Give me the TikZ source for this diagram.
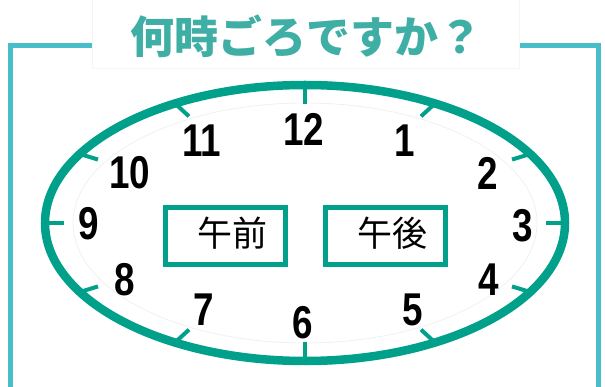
\documentclass[tikz,border=0pt]{standalone}
\usepackage{fontspec}
\setmainfont{Liberation Sans}
\newfontfamily\cjk{Noto Sans CJK JP}
\newfontfamily\numf{Liberation Sans}
\definecolor{rim}{HTML}{00A08A}
\definecolor{frameC}{HTML}{48BEC8}
\definecolor{titleC}{HTML}{3FAFA6}
\tikzset{
  clockrim/.style={draw=rim, line width=8.5pt},
  ticklin/.style={draw=rim, line width=4pt},
  framelin/.style={draw=frameC, line width=5pt},
  numlab/.style={font=\numf\bfseries\fontsize{46}{46}\selectfont, inner sep=0pt, xscale=0.8},
  ampm/.style={draw=rim, line width=5pt, minimum width=120pt, minimum height=57pt, inner sep=0pt},
  ampmtxt/.style={font=\cjk\fontsize{35}{35}\selectfont, inner sep=0pt},
}
\begin{document}
\begin{tikzpicture}[x=1pt,y=-1pt]
\useasboundingbox (0,0) rectangle (605,387);
% frame
\draw[framelin] (10,387) -- (10,46) -- (92,46);
\draw[framelin] (519,46) -- (598,46) -- (598,387);
% title box
\fill[white] (92,-2) rectangle (519,68);
\draw[black!4, line width=0.6pt] (92,-2) -- (92,68) -- (519,68) -- (519,-2);
\node[font=\cjk\bfseries\fontsize{44}{44}\selectfont, text=titleC, inner sep=0pt] (title) at (306,36) {何時ごろですか？};
% faint inner ellipse
\draw[black!6, line width=0.8pt] (305,223) ellipse [x radius=232pt, y radius=120pt];
% ticks
\foreach \t in {0,30,...,330}{
  \pgfmathsetmacro\cx{260*cos(\t)}
  \pgfmathsetmacro\cy{138*sin(\t)}
  \pgfmathsetmacro\n{veclen(\cx,\cy)}
  \draw[ticklin] (305+\cx,223-\cy) -- ++(-19*\cx/\n,19*\cy/\n);
}
% rim
\draw[clockrim] (305,223) ellipse [x radius=260pt, y radius=138pt];
% numbers
\node[numlab] (n12) at (304,129) {12};
\node[numlab] (n1) at (405,141) {1};
\node[numlab] (n2) at (488,173) {2};
\node[numlab] (n3) at (523,226) {3};
\node[numlab] (n4) at (489,280) {4};
\node[numlab] (n5) at (413,310) {5};
\node[numlab] (n6) at (303,323) {6};
\node[numlab] (n7) at (204,310) {7};
\node[numlab] (n8) at (125,280) {8};
\node[numlab] (n9) at (89,224) {9};
\node[numlab] (n10) at (130,173) {10};
\node[numlab] (n11) at (202,141) {11};
% am / pm boxes
\node[ampm] (am) at (225.5,236) {};
\node[ampmtxt] (amt) at (232,233) {午前};
\node[ampm] (pm) at (385.5,236) {};
\node[ampmtxt] (pmt) at (392,233) {午後};
\end{tikzpicture}
\end{document}
